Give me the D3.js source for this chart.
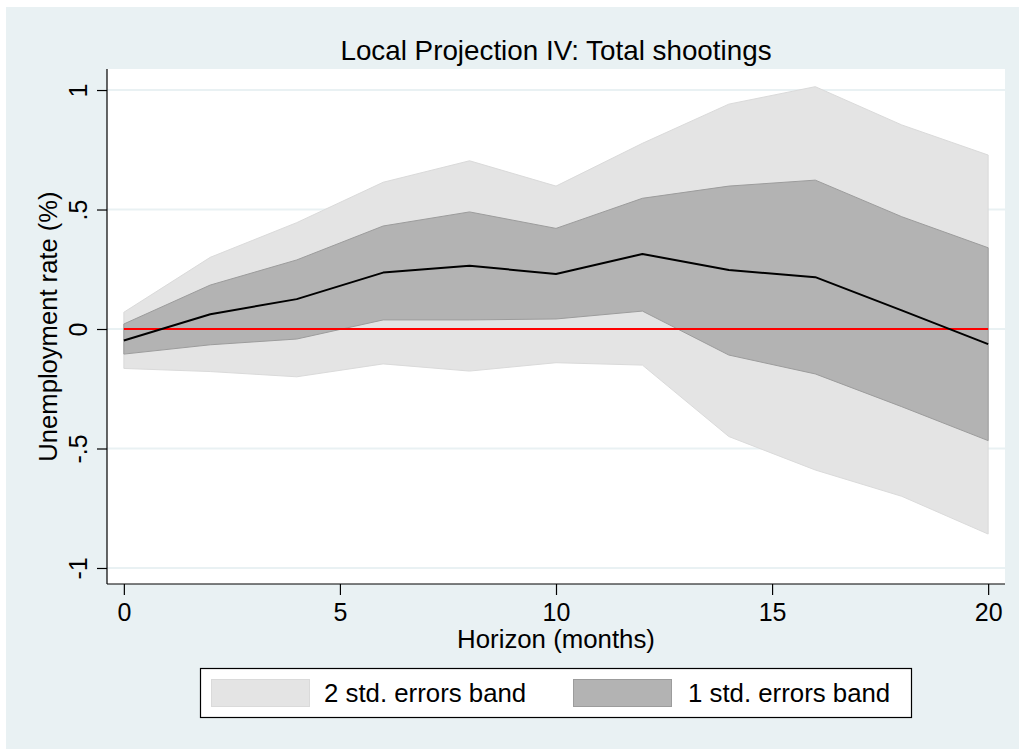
<!DOCTYPE html>
<html>
<head>
<meta charset="utf-8">
<script src="https://cdn.jsdelivr.net/npm/d3@7"></script>
<style>
  html, body { margin: 0; padding: 0; background: #ffffff; }
  svg { display: block; }
  text { font-family: "Liberation Sans", Arial, Helvetica, sans-serif; fill: #000; }
</style>
</head>
<body>
<svg id="chart" width="1019" height="749"></svg>
<script>
// Impulse response of the unemployment rate, by horizon (months)
const horizon  = [0, 2, 4, 6, 8, 10, 12, 14, 16, 18, 20];
const estimate = [-0.048, 0.062, 0.125, 0.236, 0.265, 0.230, 0.314, 0.247, 0.217, 0.078, -0.063];
const lower1se = [-0.105, -0.066, -0.042, 0.038, 0.038, 0.042, 0.075, -0.109, -0.188, -0.325, -0.467];
const upper1se = [0.021, 0.184, 0.289, 0.431, 0.490, 0.421, 0.547, 0.598, 0.623, 0.470, 0.340];
const lower2se = [-0.165, -0.178, -0.200, -0.146, -0.176, -0.141, -0.151, -0.450, -0.590, -0.700, -0.858];
const upper2se = [0.070, 0.300, 0.445, 0.614, 0.704, 0.598, 0.777, 0.941, 1.014, 0.854, 0.728];

const xTicks = [0, 5, 10, 15, 20];
const yTicks = [-1, -0.5, 0, 0.5, 1];
const yTickLabels = ["-1", "-.5", "0", ".5", "1"];

const titleText = "Local Projection IV: Total shootings";
const xTitle = "Horizon (months)";
const yTitle = "Unemployment rate (%)";
const legendLabels = ["2 std. errors band", "1 std. errors band"];

const colors = {
  panel: "#e9f1f3",
  grid: "#e9f1f3",
  band2: "#e4e4e4",
  band2Edge: "#dadada",
  band1: "#b3b3b3",
  band1Edge: "#9c9c9c",
  line: "#000000",
  zero: "#ff0000"
};

const svg = d3.select("#chart");

// outer graph region
svg.append("rect")
  .attr("x", 6).attr("y", 7)
  .attr("width", 1013).attr("height", 742)
  .attr("fill", colors.panel);

// plot region
const plot = { left: 107, top: 69, right: 1005, bottom: 584 };
svg.append("rect")
  .attr("x", plot.left).attr("y", plot.top)
  .attr("width", plot.right - plot.left).attr("height", plot.bottom - plot.top)
  .attr("fill", "#ffffff");

const x = d3.scaleLinear().domain([-0.39, 20.39]).range([plot.left, plot.right]);
const y = d3.scaleLinear().domain([-1.067, 1.088]).range([plot.bottom, plot.top]);

// horizontal grid lines
svg.append("g").selectAll("line")
  .data(yTicks).join("line")
  .attr("x1", plot.left).attr("x2", plot.right)
  .attr("y1", d => y(d)).attr("y2", d => y(d))
  .attr("stroke", colors.grid).attr("stroke-width", 2);

const rows = horizon.map((h, i) => ({
  h, est: estimate[i], lo1: lower1se[i], hi1: upper1se[i], lo2: lower2se[i], hi2: upper2se[i]
}));

const area2 = d3.area().x(d => x(d.h)).y0(d => y(d.lo2)).y1(d => y(d.hi2));
const area1 = d3.area().x(d => x(d.h)).y0(d => y(d.lo1)).y1(d => y(d.hi1));

svg.append("path").datum(rows).attr("d", area2)
  .attr("fill", colors.band2).attr("stroke", colors.band2Edge).attr("stroke-width", 1);
svg.append("path").datum(rows).attr("d", area1)
  .attr("fill", colors.band1).attr("stroke", colors.band1Edge).attr("stroke-width", 1);

// zero reference line
const zeroLine = d3.line().x(d => x(d.h)).y(() => y(0));
svg.append("path").datum(rows).attr("d", zeroLine)
  .attr("fill", "none").attr("stroke", colors.zero).attr("stroke-width", 2);

// point estimate
const estLine = d3.line().x(d => x(d.h)).y(d => y(d.est));
svg.append("path").datum(rows).attr("d", estLine)
  .attr("fill", "none").attr("stroke", colors.line).attr("stroke-width", 2)
  .attr("stroke-linejoin", "round");

// y axis
const yAxis = d3.axisLeft(y).tickValues(yTicks).tickSize(10).tickFormat(() => "");
const gy = svg.append("g").attr("transform", `translate(${plot.left},0)`).call(yAxis);
gy.select(".domain").attr("d", `M0,${plot.top}V${plot.bottom}`).attr("stroke", "#000").attr("stroke-width", 1.2);
gy.selectAll(".tick line").attr("stroke", "#000").attr("stroke-width", 1.2);
gy.selectAll(".tick").append("text")
  .attr("transform", "translate(-20,0) rotate(-90)")
  .attr("text-anchor", "middle")
  .attr("font-size", 25)
  .text((d, i) => yTickLabels[i]);

// x axis
const xAxis = d3.axisBottom(x).tickValues(xTicks).tickSize(11).tickFormat(() => "");
const gx = svg.append("g").attr("transform", `translate(0,${plot.bottom})`).call(xAxis);
gx.select(".domain").attr("d", `M${plot.left},0H${plot.right}`).attr("stroke", "#000").attr("stroke-width", 1.2);
gx.selectAll(".tick line").attr("stroke", "#000").attr("stroke-width", 1.2);
gx.selectAll(".tick").append("text")
  .attr("y", 37)
  .attr("text-anchor", "middle")
  .attr("font-size", 25)
  .text(d => d3.format("d")(d));

// titles
svg.append("text")
  .attr("x", (plot.left + plot.right) / 2).attr("y", 60)
  .attr("text-anchor", "middle").attr("font-size", 27.8)
  .text(titleText);

svg.append("text")
  .attr("x", (plot.left + plot.right) / 2).attr("y", 648)
  .attr("text-anchor", "middle").attr("font-size", 25.8)
  .text(xTitle);

svg.append("text")
  .attr("transform", `translate(57,${(plot.top + plot.bottom) / 2}) rotate(-90)`)
  .attr("text-anchor", "middle").attr("font-size", 25.6)
  .text(yTitle);

// legend
const legend = svg.append("g");
legend.append("rect")
  .attr("x", 200.5).attr("y", 668.5).attr("width", 711).attr("height", 49)
  .attr("fill", "#ffffff").attr("stroke", "#000").attr("stroke-width", 1.2);

const legendItems = [
  { label: legendLabels[0], fill: colors.band2, edge: colors.band2Edge, sx: 211, tx: 324 },
  { label: legendLabels[1], fill: colors.band1, edge: colors.band1Edge, sx: 573, tx: 688 }
];
legendItems.forEach(it => {
  legend.append("rect")
    .attr("x", it.sx + 0.5).attr("y", 679.5).attr("width", 98).attr("height", 27)
    .attr("fill", it.fill).attr("stroke", it.edge).attr("stroke-width", 1);
  legend.append("text")
    .attr("x", it.tx).attr("y", 702)
    .attr("font-size", 25.8)
    .text(it.label);
});
</script>
</body>
</html>
